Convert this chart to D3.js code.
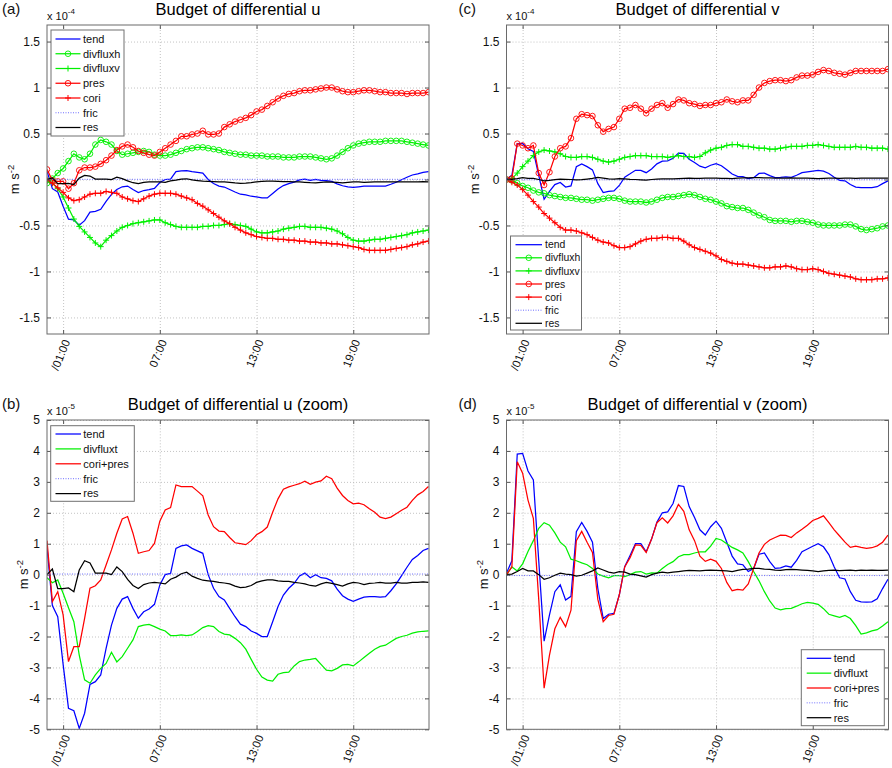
<!DOCTYPE html>
<html><head><meta charset="utf-8">
<script src="https://cdn.jsdelivr.net/npm/d3@7"></script>
<style>
body{margin:0;background:#fff;}
svg{display:block;font-family:"Liberation Sans",Arial,sans-serif;}
</style></head>
<body><svg id="chart" width="892" height="768"></svg>
<script>
// time axis: hours since 00:00, 20-minute samples
const times = d3.range(72).map(k => k / 3);
const xTickHours = [1, 7, 13, 19];
const xTickLabels = ["/01:00", "07:00", "13:00", "19:00"];
const yTicksTop = [-1.5, -1, -0.5, 0, 0.5, 1, 1.5];
const yTicksZoom = [-5, -4, -3, -2, -1, 0, 1, 2, 3, 4, 5];

// ---- differential u (tend and res in 1e-5 m s^-2) ----
const tendU = [0.9,-1.0,-1.36,-2.9,-4.32,-4.4,-4.97,-4.48,-3.55,-3.46,-3.24,-2.38,
 -1.63,-1.09,-0.79,-0.71,-1.09,-1.41,-1.2,-1.11,-0.96,-0.33,0.0,0.04,
 0.85,0.93,0.96,0.85,0.77,0.69,0.0,-0.44,-0.71,-0.82,-1.09,-1.36,
 -1.6,-1.68,-1.82,-1.9,-2.0,-2.0,-1.52,-1.03,-0.66,-0.44,-0.28,-0.04,
 0.05,-0.1,0.0,-0.1,-0.12,-0.2,-0.47,-0.68,-0.79,-0.86,-0.79,-0.73,
 -0.71,-0.71,-0.73,-0.71,-0.52,-0.3,-0.03,0.24,0.49,0.62,0.78,0.85];
const resU = [0,0.18,-0.45,-0.45,-0.43,-0.55,0.15,0.45,0.38,0.05,0.05,0.05,
 0.0,0.25,0.1,-0.15,-0.35,-0.45,-0.32,-0.27,-0.25,-0.27,-0.3,-0.15,
 -0.08,0.03,0.08,-0.05,-0.12,-0.18,-0.2,-0.22,-0.25,-0.27,-0.3,-0.37,
 -0.42,-0.4,-0.35,-0.25,-0.2,-0.17,-0.17,-0.2,-0.22,-0.22,-0.25,-0.27,
 -0.3,-0.35,-0.37,-0.3,-0.25,-0.28,-0.32,-0.37,-0.3,-0.25,-0.27,-0.32,
 -0.28,-0.27,-0.25,-0.27,-0.27,-0.25,-0.27,-0.27,-0.25,-0.25,-0.23,-0.25];
const coriPresU = [1.1,-0.87,-0.55,-1.3,-2.81,-2.33,-2.33,-1.41,-0.44,-0.36,-0.17,0.31,
 0.8,1.34,1.8,1.88,1.34,0.69,0.74,0.78,1.01,1.73,2.09,2.17,
 2.9,2.85,2.85,2.85,2.7,2.55,1.93,1.55,1.41,1.39,1.2,1.03,
 1.0,0.97,1.1,1.29,1.39,1.54,2.02,2.45,2.76,2.84,2.89,2.94,
 3.02,2.92,2.99,3.03,3.18,3.1,2.8,2.56,2.4,2.29,2.31,2.26,
 2.13,2.02,1.86,1.81,1.86,1.97,2.08,2.18,2.4,2.58,2.69,2.85];
const divfluxtU = [-0.1,-0.26,-0.17,-0.6,-1.07,-1.52,-2.6,-3.4,-3.51,-3.24,-3.03,-2.87,
 -2.51,-2.82,-2.65,-2.38,-2.11,-1.68,-1.63,-1.61,-1.68,-1.76,-1.82,-1.97,
 -1.97,-1.95,-1.97,-1.95,-1.84,-1.71,-1.65,-1.68,-1.84,-1.92,-1.95,-2.06,
 -2.2,-2.41,-2.74,-3.06,-3.31,-3.41,-3.44,-3.22,-3.17,-3.15,-2.95,-2.81,
 -2.76,-2.74,-2.71,-2.9,-3.09,-3.11,-3.03,-2.92,-2.9,-2.95,-2.82,-2.68,
 -2.54,-2.41,-2.32,-2.28,-2.17,-2.06,-2.0,-1.96,-1.89,-1.85,-1.83,-1.82];
// (in 1e-4 m s^-2)
const divfluxhU = [-0.04,0.01,0.07,0.12,0.2,0.28,0.24,0.22,0.28,0.38,0.43,0.41,
 0.38,0.31,0.27,0.28,0.29,0.3,0.31,0.3,0.27,0.26,0.26,0.27,
 0.29,0.31,0.33,0.34,0.35,0.35,0.34,0.33,0.32,0.3,0.29,0.28,
 0.27,0.27,0.26,0.26,0.26,0.25,0.25,0.25,0.24,0.24,0.24,0.25,
 0.25,0.25,0.24,0.23,0.22,0.23,0.26,0.3,0.34,0.37,0.39,0.4,
 0.41,0.41,0.41,0.42,0.42,0.42,0.42,0.41,0.4,0.39,0.38,0.37];
const divfluxvU = [-0.02,-0.04,-0.1,-0.19,-0.31,-0.43,-0.51,-0.57,-0.63,-0.69,-0.73,-0.66,
 -0.61,-0.56,-0.52,-0.5,-0.48,-0.47,-0.46,-0.45,-0.44,-0.44,-0.47,-0.49,
 -0.51,-0.52,-0.52,-0.52,-0.52,-0.51,-0.51,-0.5,-0.5,-0.49,-0.48,-0.49,
 -0.5,-0.51,-0.54,-0.57,-0.58,-0.58,-0.57,-0.56,-0.54,-0.53,-0.52,-0.51,
 -0.51,-0.52,-0.52,-0.52,-0.53,-0.54,-0.56,-0.59,-0.63,-0.66,-0.67,-0.67,
 -0.66,-0.65,-0.65,-0.64,-0.63,-0.62,-0.61,-0.6,-0.58,-0.57,-0.56,-0.55];
const presU = [0.11,-0.01,-0.02,-0.02,-0.1,-0.04,0.1,0.13,0.13,0.14,0.17,0.21,
 0.26,0.32,0.36,0.38,0.35,0.31,0.29,0.27,0.26,0.3,0.34,0.38,
 0.42,0.47,0.47,0.49,0.5,0.53,0.49,0.49,0.5,0.57,0.6,0.63,
 0.65,0.67,0.7,0.74,0.76,0.8,0.84,0.88,0.91,0.93,0.94,0.96,
 0.97,0.97,0.98,0.99,1.0,1.0,0.98,0.96,0.95,0.95,0.96,0.97,
 0.97,0.96,0.95,0.95,0.94,0.94,0.94,0.93,0.94,0.94,0.94,0.95];
const coriU = [0.0,-0.04,-0.09,-0.14,-0.2,-0.23,-0.22,-0.19,-0.16,-0.15,-0.15,-0.13,
 -0.14,-0.15,-0.19,-0.21,-0.23,-0.24,-0.21,-0.18,-0.16,-0.15,-0.15,-0.15,
 -0.16,-0.18,-0.2,-0.22,-0.26,-0.29,-0.33,-0.37,-0.41,-0.45,-0.48,-0.52,
 -0.55,-0.58,-0.6,-0.62,-0.63,-0.64,-0.64,-0.65,-0.65,-0.66,-0.66,-0.67,
 -0.67,-0.68,-0.68,-0.69,-0.69,-0.7,-0.7,-0.71,-0.72,-0.73,-0.74,-0.76,
 -0.77,-0.77,-0.77,-0.77,-0.76,-0.75,-0.74,-0.73,-0.71,-0.7,-0.68,-0.67];

// ---- differential v (tend and res in 1e-5 m s^-2) ----
const tendV = [0.05,0.45,3.9,3.92,3.35,3.06,0.45,-2.15,-1.3,-0.55,-0.33,-0.82,
 -0.7,1.39,1.69,1.4,1.05,-0.45,-1.42,-1.28,-1.25,-0.65,0.26,0.62,
 1.0,1.0,0.74,1.15,1.7,2.0,2.03,2.3,2.88,2.85,2.2,1.85,
 1.45,1.28,1.55,1.73,1.5,1.05,0.6,0.35,0.32,0.1,0.2,0.66,
 0.7,0.42,0.2,0.22,0.28,0.24,0.46,0.74,0.83,0.92,1.0,0.9,
 0.65,0.25,-0.1,-0.14,-0.55,-0.83,-0.88,-0.89,-0.88,-0.78,-0.45,-0.15];
const coriPresV = [0.0,0.25,3.65,3.28,2.41,1.82,-0.8,-3.67,-2.6,-1.75,-1.38,-1.68,
 -1.15,1.1,1.4,1.05,0.72,-0.8,-1.52,-1.32,-1.28,-0.65,0.25,0.55,
 0.96,0.95,0.72,1.15,1.68,1.84,1.67,1.9,2.27,2.05,1.45,1.1,
 0.6,0.43,0.5,0.43,0.2,-0.25,-0.52,-0.48,-0.5,-0.3,0.2,0.7,
 0.98,1.12,1.2,1.28,1.27,1.2,1.35,1.47,1.6,1.75,1.82,1.9,
 1.68,1.45,1.25,1.05,0.88,0.92,0.88,0.85,0.87,0.93,1.05,1.28];
const divfluxtV = [0.0,0.25,0.12,0.35,0.75,1.1,1.5,1.68,1.6,1.35,1.05,0.9,
 0.5,0.45,0.38,0.32,0.2,0.02,-0.05,-0.1,-0.03,-0.03,-0.06,0.0,
 0.08,0.1,0.02,0.06,0.05,0.2,0.33,0.42,0.58,0.65,0.65,0.7,
 0.74,0.74,0.92,1.17,1.12,1.0,0.88,0.8,0.7,0.42,0.1,-0.2,
 -0.55,-0.85,-1.08,-1.14,-1.1,-1.09,-1.02,-0.94,-0.9,-0.92,-0.96,-1.1,
 -1.28,-1.33,-1.38,-1.32,-1.42,-1.65,-1.92,-1.88,-1.82,-1.78,-1.66,-1.52];
const resV = [0.0,0.02,0.1,0.2,0.12,0.12,0.0,-0.15,-0.1,-0.02,0.05,0.02,
 0.0,-0.05,-0.02,0.05,0.12,0.22,0.15,0.08,0.05,0.1,0.08,0.02,
 0.0,-0.04,-0.08,0.0,0.05,0.08,0.06,0.08,0.1,0.12,0.14,0.13,
 0.12,0.14,0.15,0.14,0.13,0.12,0.1,0.14,0.17,0.18,0.2,0.2,
 0.18,0.17,0.15,0.14,0.16,0.17,0.16,0.15,0.14,0.12,0.1,0.12,
 0.14,0.15,0.13,0.14,0.15,0.13,0.15,0.14,0.15,0.14,0.14,0.15];
// (in 1e-4 m s^-2)
const divfluxhV = [0.0,-0.01,-0.04,-0.07,-0.09,-0.12,-0.14,-0.15,-0.17,-0.18,-0.19,-0.2,
 -0.2,-0.21,-0.22,-0.22,-0.23,-0.22,-0.21,-0.2,-0.2,-0.21,-0.23,-0.24,
 -0.24,-0.24,-0.25,-0.24,-0.22,-0.2,-0.19,-0.19,-0.18,-0.17,-0.16,-0.17,
 -0.19,-0.21,-0.22,-0.24,-0.26,-0.29,-0.3,-0.31,-0.31,-0.33,-0.36,-0.39,
 -0.41,-0.44,-0.45,-0.45,-0.45,-0.46,-0.45,-0.45,-0.46,-0.47,-0.49,-0.5,
 -0.5,-0.5,-0.5,-0.49,-0.49,-0.51,-0.54,-0.55,-0.54,-0.53,-0.51,-0.5];
const divfluxvV = [0.0,0.01,0.07,0.14,0.2,0.26,0.3,0.32,0.31,0.3,0.28,0.25,
 0.24,0.24,0.25,0.25,0.24,0.22,0.2,0.19,0.2,0.22,0.24,0.25,
 0.26,0.26,0.26,0.25,0.25,0.25,0.24,0.25,0.26,0.25,0.25,0.24,
 0.25,0.29,0.32,0.34,0.35,0.37,0.38,0.38,0.36,0.36,0.35,0.34,
 0.34,0.33,0.33,0.34,0.35,0.36,0.36,0.36,0.37,0.37,0.38,0.37,
 0.36,0.35,0.35,0.35,0.35,0.36,0.35,0.35,0.34,0.34,0.34,0.33];
const presV = [0.0,0.01,0.39,0.37,0.34,0.37,0.07,-0.06,0.08,0.25,0.34,0.36,
 0.45,0.66,0.71,0.7,0.69,0.59,0.52,0.55,0.57,0.66,0.77,0.78,
 0.81,0.77,0.72,0.77,0.81,0.83,0.78,0.82,0.87,0.86,0.83,0.82,
 0.8,0.81,0.81,0.83,0.84,0.87,0.85,0.84,0.86,0.86,0.92,1.0,
 1.05,1.07,1.08,1.08,1.07,1.08,1.11,1.13,1.13,1.14,1.17,1.19,
 1.18,1.16,1.15,1.14,1.16,1.18,1.18,1.18,1.18,1.18,1.18,1.2];
const coriV = [0.0,-0.03,-0.06,-0.11,-0.17,-0.24,-0.3,-0.37,-0.42,-0.47,-0.52,-0.55,
 -0.55,-0.56,-0.58,-0.6,-0.63,-0.66,-0.68,-0.69,-0.72,-0.74,-0.74,-0.73,
 -0.7,-0.67,-0.65,-0.64,-0.64,-0.63,-0.63,-0.64,-0.64,-0.67,-0.71,-0.74,
 -0.76,-0.78,-0.8,-0.83,-0.87,-0.89,-0.91,-0.92,-0.92,-0.93,-0.94,-0.95,
 -0.96,-0.96,-0.95,-0.95,-0.94,-0.95,-0.97,-0.98,-0.98,-0.97,-0.98,-1.0,
 -1.02,-1.03,-1.04,-1.05,-1.06,-1.08,-1.09,-1.09,-1.09,-1.08,-1.08,-1.07];

// friction (1e-5 m s^-2), essentially zero over the day
const fricTimes = [0, 71 / 3];
const fricU = [0.02, 0.02];
const fricV = [-0.03, -0.03];

const BLUE = "#0000ff", GREEN = "#00f000", RED = "#ff0000", BLACK = "#000000", FRIC = "#6f6fff";
const toE4 = v => v / 10; // 1e-5 -> 1e-4 units

const svg = d3.select("#chart");
svg.append("rect").attr("width", 892).attr("height", 768).attr("fill", "#fff");

const panels = [
  { key: "a", l: 47, r: 429, t: 25, b: 334, yMax: 1.68, yTicks: yTicksTop, exp: "-4",
    title: "Budget of differential u", tag: "(a)", tagX: 2, ylabX: 18.5,
    series: [
      { name: "tend", t: times, v: tendU.map(toE4), color: BLUE },
      { name: "divfluxh", t: times, v: divfluxhU, color: GREEN, marker: "o" },
      { name: "divfluxv", t: times, v: divfluxvU, color: GREEN, marker: "+" },
      { name: "pres", t: times, v: presU, color: RED, marker: "o" },
      { name: "cori", t: times, v: coriU, color: RED, marker: "+" },
      { name: "fric", t: fricTimes, v: fricU.map(toE4), color: FRIC, dotted: true },
      { name: "res", t: times, v: resU.map(toE4), color: BLACK }
    ],
    legend: { x: 51, y: 30, w: 73, h: 106, y0: 39, dy: 14.75, lx0: 55.5, lx1: 80.5, tx: 83, fs: 11 } },
  { key: "c", l: 506.5, r: 888.5, t: 25, b: 334, yMax: 1.68, yTicks: yTicksTop, exp: "-4",
    title: "Budget of differential v", tag: "(c)", tagX: 458.5, ylabX: 478.5,
    series: [
      { name: "tend", t: times, v: tendV.map(toE4), color: BLUE },
      { name: "divfluxh", t: times, v: divfluxhV, color: GREEN, marker: "o" },
      { name: "divfluxv", t: times, v: divfluxvV, color: GREEN, marker: "+" },
      { name: "pres", t: times, v: presV, color: RED, marker: "o" },
      { name: "cori", t: times, v: coriV, color: RED, marker: "+" },
      { name: "fric", t: fricTimes, v: fricV.map(toE4), color: FRIC, dotted: true },
      { name: "res", t: times, v: resV.map(toE4), color: BLACK }
    ],
    legend: { x: 510.5, y: 236, w: 71, h: 94, y0: 244.7, dy: 13.1, lx0: 515.5, lx1: 542, tx: 545, fs: 10.4 } },
  { key: "b", l: 47, r: 429, t: 420, b: 729.3, yMax: 5, yTicks: yTicksZoom, exp: "-5",
    title: "Budget of differential u (zoom)", tag: "(b)", tagX: 2, ylabX: 28,
    series: [
      { name: "tend", t: times, v: tendU, color: BLUE },
      { name: "divfluxt", t: times, v: divfluxtU, color: GREEN },
      { name: "cori+pres", t: times, v: coriPresU, color: RED },
      { name: "fric", t: fricTimes, v: fricU, color: FRIC, dotted: true },
      { name: "res", t: times, v: resU, color: BLACK }
    ],
    legend: { x: 50.7, y: 425.7, w: 83.6, h: 75.6, y0: 434, dy: 14.9, lx0: 55.5, lx1: 81, tx: 83.3, fs: 11 } },
  { key: "d", l: 506.5, r: 888.5, t: 420, b: 729.3, yMax: 5, yTicks: yTicksZoom, exp: "-5",
    title: "Budget of differential v (zoom)", tag: "(d)", tagX: 458.5, ylabX: 487.5,
    series: [
      { name: "tend", t: times, v: tendV, color: BLUE },
      { name: "divfluxt", t: times, v: divfluxtV, color: GREEN },
      { name: "cori+pres", t: times, v: coriPresV, color: RED },
      { name: "fric", t: fricTimes, v: fricV, color: FRIC, dotted: true },
      { name: "res", t: times, v: resV, color: BLACK }
    ],
    legend: { x: 801.3, y: 649.7, w: 83, h: 76, y0: 658.3, dy: 14.85, lx0: 806.7, lx1: 831.3, tx: 833.7, fs: 11 } }
];

const fmt = d => String(Math.round(d * 10) / 10);

function drawMarker(g, kind, cx, cy, color) {
  if (kind === "o") {
    g.append("circle").attr("cx", cx).attr("cy", cy).attr("r", 2.8)
      .attr("fill", "none").attr("stroke", color).attr("stroke-width", 0.9);
  } else if (kind === "+") {
    g.append("path").attr("d", `M${cx - 3},${cy}H${cx + 3}M${cx},${cy - 3}V${cy + 3}`)
      .attr("stroke", color).attr("stroke-width", 1).attr("fill", "none");
  }
}

panels.forEach(p => {
  const g = svg.append("g");
  const x = d3.scaleLinear().domain([0, 23.7]).range([p.l, p.r]);
  const y = d3.scaleLinear().domain([-p.yMax, p.yMax]).range([p.b, p.t]);
  const W = p.r - p.l, H = p.b - p.t;

  // grid lines
  const gy = g.append("g").attr("transform", `translate(${p.l},0)`)
    .call(d3.axisLeft(y).tickValues(p.yTicks).tickSize(-W).tickFormat(""));
  const gx = g.append("g").attr("transform", `translate(0,${p.b})`)
    .call(d3.axisBottom(x).tickValues(xTickHours).tickSize(-H).tickFormat(""));
  [gy, gx].forEach(a => {
    a.select(".domain").remove();
    a.selectAll("line").attr("stroke", "#b4b4b4").attr("stroke-width", 0.8).attr("stroke-dasharray", "1,2");
  });

  // data
  const clipId = "clip-" + p.key;
  svg.append("clipPath").attr("id", clipId).append("rect")
    .attr("x", p.l).attr("y", p.t).attr("width", W).attr("height", H);
  const gd = g.append("g").attr("clip-path", `url(#${clipId})`);
  const line = d3.line().x(d => x(d[0])).y(d => y(d[1]));
  p.series.forEach(s => {
    const pts = s.t.map((tt, i) => [tt, s.v[i]]);
    gd.append("path").attr("d", line(pts)).attr("fill", "none")
      .attr("stroke", s.color).attr("stroke-width", s.dotted ? 1 : 1.25)
      .attr("stroke-dasharray", s.dotted ? "1,1.5" : null);
    if (s.marker) pts.forEach(d => drawMarker(gd, s.marker, x(d[0]), y(d[1]), s.color));
  });

  // inner tick marks
  const tl = g.append("g").attr("transform", `translate(${p.l},0)`).call(d3.axisLeft(y).tickValues(p.yTicks).tickSize(-4).tickFormat(""));
  const tr = g.append("g").attr("transform", `translate(${p.r},0)`).call(d3.axisRight(y).tickValues(p.yTicks).tickSize(-4).tickFormat(""));
  const tb = g.append("g").attr("transform", `translate(0,${p.b})`).call(d3.axisBottom(x).tickValues(xTickHours).tickSize(-4).tickFormat(""));
  const tt = g.append("g").attr("transform", `translate(0,${p.t})`).call(d3.axisTop(x).tickValues(xTickHours).tickSize(-4).tickFormat(""));
  [tl, tr, tb, tt].forEach(a => { a.select(".domain").remove(); a.selectAll("line").attr("stroke", "#555"); });

  // frame
  g.append("rect").attr("x", p.l).attr("y", p.t).attr("width", W).attr("height", H)
    .attr("fill", "none").attr("stroke", "#6a6a6a").attr("stroke-width", 1);

  // y tick labels
  const ya = g.append("g").attr("transform", `translate(${p.l},0)`)
    .call(d3.axisLeft(y).tickValues(p.yTicks).tickSize(0).tickPadding(7).tickFormat(fmt));
  ya.select(".domain").remove();
  ya.selectAll("text").attr("font-size", 12).attr("font-family", "Liberation Sans, Arial, sans-serif").attr("fill", "#111");

  // x tick labels (rotated)
  const xa = g.append("g").attr("transform", `translate(0,${p.b})`)
    .call(d3.axisBottom(x).tickValues(xTickHours).tickSize(0).tickFormat((d, i) => xTickLabels[i]));
  xa.select(".domain").remove();
  xa.selectAll("text").attr("font-size", 11.5).attr("font-family", "Liberation Sans, Arial, sans-serif").attr("fill", "#111")
    .attr("text-anchor", "end").attr("x", 0).attr("y", 0).attr("dy", "0.35em")
    .attr("transform", "translate(3,6) rotate(-68)");

  // exponent label
  const ex = g.append("text").attr("x", p.l).attr("y", p.t - 5).attr("font-size", 11).attr("fill", "#111");
  ex.append("tspan").text("x 10");
  ex.append("tspan").attr("dy", -6).attr("font-size", 8).text(p.exp);

  // y-axis label
  const yl = g.append("text").attr("transform", `translate(${p.ylabX},${(p.t + p.b) / 2}) rotate(-90)`)
    .attr("text-anchor", "middle").attr("font-size", 13).attr("fill", "#111");
  yl.append("tspan").text("m s");
  yl.append("tspan").attr("dy", -5).attr("font-size", 9.5).text("-2");

  // title & panel tag
  g.append("text").attr("x", (p.l + p.r) / 2).attr("y", p.t - 10).attr("text-anchor", "middle")
    .attr("font-size", 16.5).attr("fill", "#000").text(p.title);
  g.append("text").attr("x", p.tagX).attr("y", p.t - 11).attr("font-size", 15).attr("fill", "#111").text(p.tag);

  // legend
  const L = p.legend;
  const lg = g.append("g");
  lg.append("rect").attr("x", L.x).attr("y", L.y).attr("width", L.w).attr("height", L.h)
    .attr("fill", "#fff").attr("stroke", "#707070").attr("stroke-width", 1);
  p.series.forEach((s, i) => {
    const yy = L.y0 + i * L.dy;
    lg.append("line").attr("x1", L.lx0).attr("x2", L.lx1).attr("y1", yy).attr("y2", yy)
      .attr("stroke", s.color).attr("stroke-width", s.dotted ? 1 : 1.25)
      .attr("stroke-dasharray", s.dotted ? "1,1.5" : null);
    if (s.marker) drawMarker(lg, s.marker, (L.lx0 + L.lx1) / 2, yy, s.color);
    lg.append("text").attr("x", L.tx).attr("y", yy).attr("dy", "0.35em")
      .attr("font-size", L.fs).attr("fill", "#111").text(s.name);
  });
});
</script>
</body></html>
